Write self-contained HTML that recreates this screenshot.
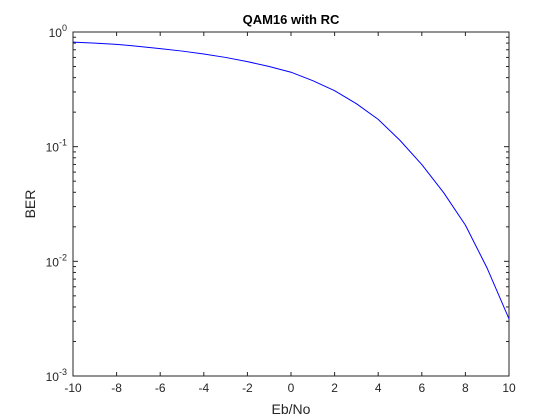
<!DOCTYPE html>
<html><head><meta charset="utf-8"><style>
body{margin:0;background:#fff;}
svg{display:block;font-family:"Liberation Sans",Arial,sans-serif;}
</style></head><body>
<svg id="chart" width="560" height="420" viewBox="0 0 560 420">
<rect x="0" y="0" width="560" height="420" fill="#fff"/>
<rect x="73" y="32" width="436" height="344" fill="#fff"/>
<g id="grid"></g>
<text x="291" y="24" text-anchor="middle" font-size="13" font-weight="bold" fill="#000">QAM16 with RC</text>
<text x="291" y="414" text-anchor="middle" font-size="14" fill="#262626">Eb/No</text>
<text x="35" y="204" text-anchor="middle" font-size="14" fill="#262626" transform="rotate(-90 35 204)">BER</text>
</svg>
<script>
const xs = [-10,-9,-8,-7,-6,-5,-4,-3,-2,-1,0,1,2,3,4,5,6,7,8,9,10];
const ber = [0.817,0.80,0.78,0.75,0.716,0.682,0.643,0.60,0.552,0.50,0.446,0.376,0.308,0.237,0.173,0.1135,0.0698,0.0398,0.0207,0.0087,0.00315];
const xTicks = [-10,-8,-6,-4,-2,0,2,4,6,8,10];
const yExps = [0,-1,-2,-3];
const L=73,R=509,T=32,B=376;
const sx = v => L + (v+10)/20*(R-L);
const sy = v => T + (-Math.log10(v))/3*(B-T);
const svg=document.getElementById('chart');
const g=document.getElementById('grid');
const NS='http://www.w3.org/2000/svg';
function mk(tag,attrs,parent){const e=document.createElementNS(NS,tag);for(const k in attrs)e.setAttribute(k,attrs[k]);(parent||g).appendChild(e);return e;}
xTicks.forEach(v=>{
  const x=sx(v);
  const t1=mk('line',{x1:x,x2:x,y1:B,y2:B-4,stroke:'#262626','stroke-width':1});
  
  
  const t2=mk('line',{x1:x,x2:x,y1:T,y2:T+4,stroke:'#262626','stroke-width':1});
  
  
  const tx=mk('text',{x:x,y:B+16,'text-anchor':'middle','font-size':12,fill:'#262626'},svg);
  tx.textContent=String(v);
  
  
});
yExps.forEach(e=>{
  const y=sy(Math.pow(10,e));
  const a=mk('line',{x1:L,x2:L+5,y1:y,y2:y,stroke:'#262626'});
  
  
  const b=mk('line',{x1:R,x2:R-5,y1:y,y2:y,stroke:'#262626'});
  
  
  const tx=mk('text',{x:L-6,y:y+5,'text-anchor':'end','font-size':12,fill:'#262626'},svg);
  
  
  tx.appendChild(document.createTextNode('10'));
  const sp=mk('tspan',{dy:-6,'font-size':9},tx);
  sp.textContent=String(e);
  if(e>-3){for(let m=2;m<=9;m++){
    const yy=sy(m*Math.pow(10,e-1));
    const c=mk('line',{x1:L,x2:L+3,y1:yy,y2:yy,stroke:'#262626'});
    
    
    const d=mk('line',{x1:R,x2:R-3,y1:yy,y2:yy,stroke:'#262626'});
    
    
  }}
});
const frame=mk('rect',{x:L,y:T,width:R-L,height:B-T,fill:'none',stroke:'#262626','stroke-width':1});


const pts=xs.map((x,i)=>sx(x).toFixed(2)+','+sy(ber[i]).toFixed(2)).join(' ');
const line=mk('polyline',{points:pts,fill:'none',stroke:'#0000ff','stroke-width':1,'stroke-linejoin':'round'});


</script>
</body></html>
